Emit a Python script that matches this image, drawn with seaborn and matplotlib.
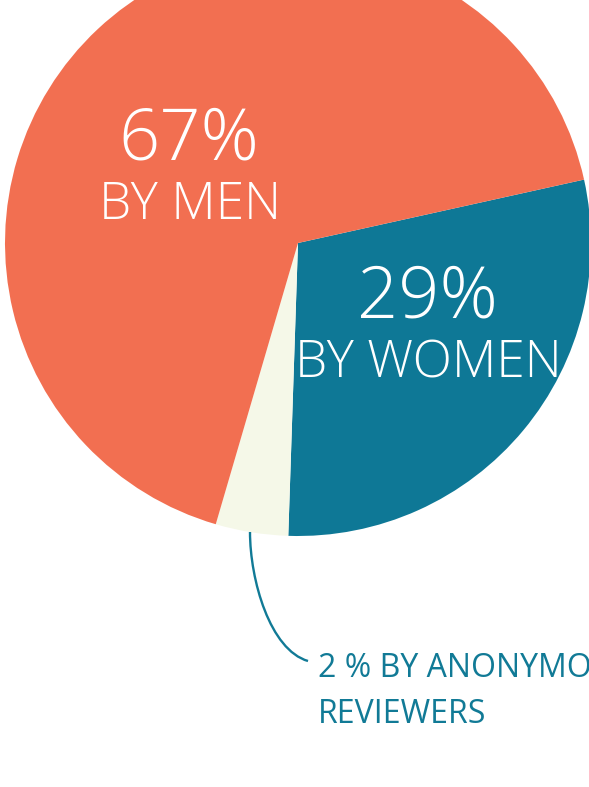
import matplotlib
matplotlib.use("Agg")
import matplotlib.pyplot as plt
from matplotlib.path import Path
from matplotlib.patches import PathPatch
import seaborn as sns

# data
groups = ["BY MEN", "BY WOMEN", "BY ANONYMOUS REVIEWERS"]
shares = [67, 29, 4]            # drawn wedge sizes
share_labels = ["67%", "29%", "2 %"]
colors = ["#F26F51", "#0E7896", "#F5F8E8"]
teal = "#117A96"

sns.set_style("white")
plt.rcParams["font.family"] = ["Open Sans", "DejaVu Sans"]

W, H = 589, 787
fig = plt.figure(figsize=(W / 100, H / 100), dpi=100)
ax = fig.add_axes([0, 0, 1, 1])

# pie order: women, anonymous, men (clockwise from upper right)
order = [1, 2, 0]
ax.pie([shares[i] for i in order], colors=[colors[i] for i in order],
       startangle=12.5, counterclock=False, radius=293, center=(298, H - 243),
       wedgeprops=dict(linewidth=0))

ax.set_xlim(0, W)
ax.set_ylim(0, H)
ax.set_aspect("equal")
ax.axis("off")

# labels inside the wedges
big = dict(color="white", fontsize=52, fontweight="light", ha="center", va="baseline")
small = dict(color="white", fontsize=37, fontweight="light", ha="center", va="baseline")
ax.text(189, H - 160, share_labels[0], **big)
ax.text(190, H - 219, groups[0], **small)
ax.text(427, H - 318, share_labels[1], **big)
ax.text(428, H - 378, groups[1], **small)

# leader line for the tiny slice
verts = [(250, H - 532), (250, H - 580), (270, H - 650), (308, H - 661)]
path = Path(verts, [Path.MOVETO, Path.CURVE4, Path.CURVE4, Path.CURVE4])
ax.add_patch(PathPatch(path, facecolor="none", edgecolor=teal, linewidth=1.7))

ax.text(318, H - 677, share_labels[2] + " BY ANONYMOUS", color=teal, fontsize=23,
        ha="left", va="baseline")
ax.text(318, H - 723, "REVIEWERS", color=teal, fontsize=23,
        ha="left", va="baseline")

fig.savefig("out.png", dpi=100, facecolor="white")
